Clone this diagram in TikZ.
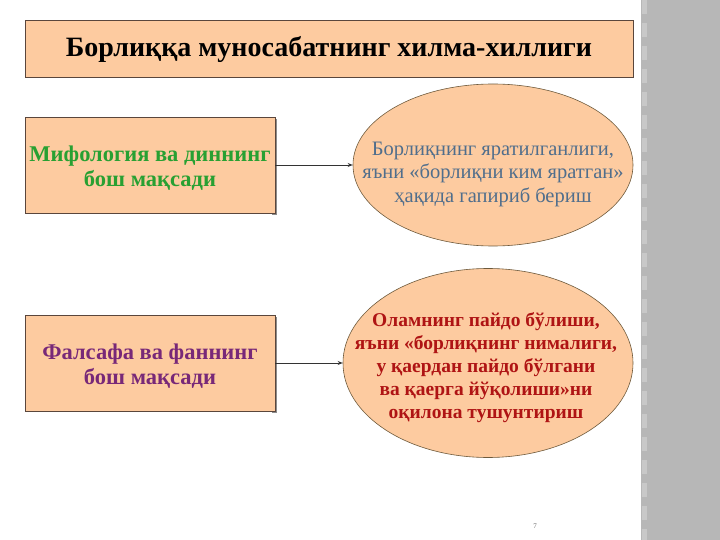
\documentclass[tikz,border=0pt]{standalone}
\usepackage{fontspec}
\setmainfont{Liberation Serif}
\usetikzlibrary{shapes.geometric,arrows.meta}
\definecolor{peach}{RGB}{253,203,160}
\definecolor{boxedge}{RGB}{90,70,60}
\definecolor{elledge}{RGB}{110,90,60}
\definecolor{greentxt}{RGB}{40,160,50}
\definecolor{purpletxt}{RGB}{120,40,120}
\definecolor{bluetxt}{RGB}{80,110,140}
\definecolor{redtxt}{RGB}{175,20,20}
\definecolor{barg}{RGB}{183,183,183}
\definecolor{barl}{RGB}{200,200,200}
\tikzset{
  titlebox/.style={draw=boxedge, line width=0.8pt, fill=peach, minimum width=608pt, minimum height=57pt, inner sep=0pt},
  leftbox/.style={draw=boxedge, line width=0.6pt, fill=peach, minimum width=250pt, minimum height=96pt, inner sep=0pt},
  lefttxt/.style={align=center, font=\bfseries\fontsize{22.5}{25}\selectfont},
  ellbox/.style={ellipse, draw=elledge, line width=0.6pt, fill=peach, inner sep=0pt},
  conn/.style={draw=black!80, line width=0.8pt, -{Stealth[length=5pt,width=4pt]}},
  shadowbar/.style={fill=black!45}
}
\begin{document}
\begin{tikzpicture}[x=1pt,y=-1pt]
\useasboundingbox (0,0) rectangle (720,540);
\fill[white] (0,0) rectangle (720,540);
% right gray bar
\fill[barg] (641,0) rectangle (720,540);
\draw[barl, line width=5pt, dash pattern=on 14pt off 9pt] (644,0) -- (644,540);
% title
\node[titlebox] (title) at (329,48.5) {};
\node[font=\bfseries\fontsize{28}{32}\selectfont] (titletxt) at (329,50) {Борлиққа муносабатнинг хилма-хиллиги};
% left boxes with shadows
\fill[shadowbar] (272,119) rectangle (277,215);
\node[leftbox] (b1) at (150,165) {};
\node[lefttxt, text=greentxt] (b1t) at (150,168) {Мифология ва диннинг\\бош мақсади};
\fill[shadowbar] (272,317) rectangle (277,413);
\node[leftbox] (b2) at (150,363) {};
\node[lefttxt, text=purpletxt] (b2t) at (150,366) {Фалсафа ва фаннинг\\бош мақсади};
% ellipses
\node[ellbox, minimum width=280pt, minimum height=162pt] (e1) at (493,165) {};
\node[align=center, text=bluetxt, font=\fontsize{20.5}{23.5}\selectfont] (e1t) at (493,174) {Борлиқнинг яратилганлиги,\\яъни «борлиқни ким яратган»\\ҳақида гапириб бериш};
\node[ellbox, minimum width=290pt, minimum height=189pt] (e2) at (488,363) {};
\node[align=center, text=redtxt, font=\bfseries\fontsize{19.5}{23}\selectfont] (e2t) at (486,368) {Оламнинг пайдо бўлиши,\\яъни «борлиқнинг нималиги,\\у қаердан пайдо бўлгани\\ва қаерга йўқолиши»ни\\оқилона тушунтириш};
% connectors
\draw[conn] (b1.east) -- (e1.west);
\draw[conn] (b2.east) -- (e2.west);
% page number
\node[text=black!60, font=\fontsize{7}{8}\selectfont] (pg) at (535,526) {7};
\end{tikzpicture}
\end{document}
